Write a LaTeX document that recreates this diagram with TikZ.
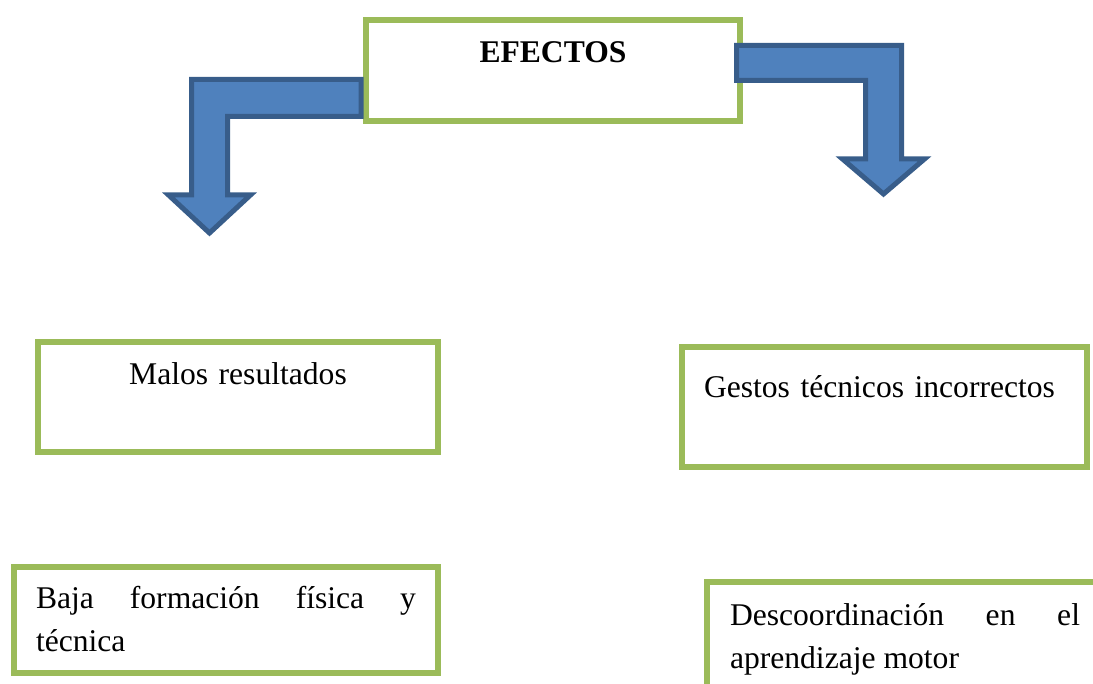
\documentclass[tikz,border=0pt]{standalone}
\usepackage{fontspec}
\setmainfont{Liberation Serif}
\usepackage{xcolor}
\definecolor{boxgreen}{HTML}{9BBB59}
\definecolor{arrowfill}{HTML}{4F81BD}
\definecolor{arrowedge}{HTML}{385D8A}

\begin{document}
\begin{tikzpicture}[x=1pt, y=-1pt, font=\fontsize{31.6}{43}\selectfont,
  every node/.style={rectangle, draw=boxgreen, line width=6pt, fill=white, inner sep=0pt, anchor=north west},
  bentarrow/.style={fill=arrowfill, draw=arrowedge, line width=5pt, line join=miter}]
  \clip (0,0) rectangle (1093,684);

  \node (efectos) [text width=374pt, align=center, text height=43pt, text depth=58pt, font=\fontsize{31.6}{43}\selectfont\bfseries] at (363,17) {EFECTOS};

  \node (malos) [text width=400pt, align=center, text height=43pt, text depth=67pt] at (35,339) {Malos resultados};
  \node (gestos) [inner xsep=22pt, text width=361pt, align=left, text height=51pt, text depth=69pt] at (679,344) {Gestos técnicos incorrectos};

  \node (baja) [inner xsep=22pt, text width=380pt, align=justify, text height=41pt, text depth=65pt] at (11,564) {Baja formación física y\linebreak técnica};
  \node (descoord) [inner xsep=23pt, text width=350pt, align=justify, text height=43pt, text depth=77pt] at (704,579) {Descoordinación en el\linebreak aprendizaje motor};

  % bent block arrows
  \draw[bentarrow] (361,79.5) -- (191.5,79.5) -- (191.5,195) -- (168.5,195) -- (209.5,233) -- (250.5,195) -- (227.5,195) -- (227.5,116.5) -- (361,116.5) -- cycle;
  \draw[bentarrow] (736.5,45.5) -- (901.5,45.5) -- (901.5,159) -- (924.5,159) -- (883.5,194) -- (842.5,159) -- (865.5,159) -- (865.5,80.5) -- (736.5,80.5) -- cycle;
\end{tikzpicture}
\end{document}
